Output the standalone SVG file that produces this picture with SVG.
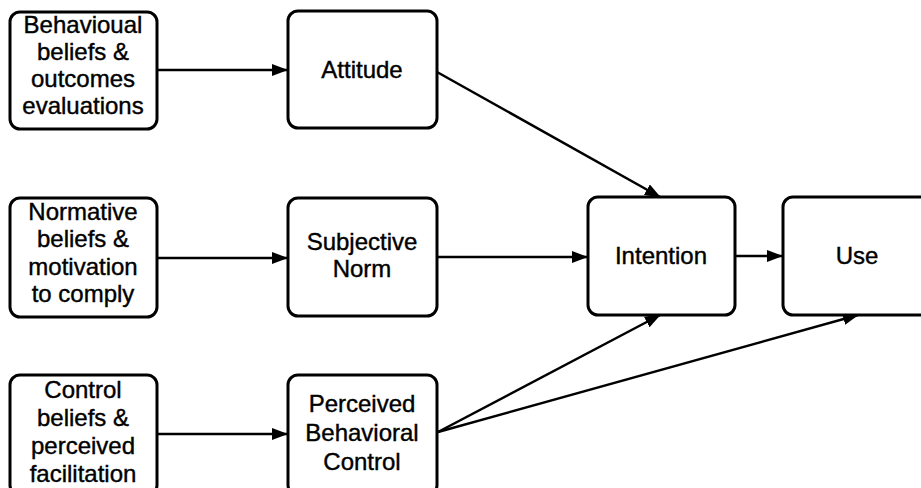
<svg xmlns="http://www.w3.org/2000/svg" width="921" height="488" viewBox="0 0 921 488">
<style>
.box{fill:#fff;stroke:#000;stroke-width:3}
.t{font-family:"Liberation Sans",Arial,sans-serif;font-size:24px;fill:#000;text-anchor:middle;stroke:#000;stroke-width:0.4}
.c{stroke:#000;stroke-width:2.5;fill:none;marker-end:url(#ah)}
</style>
<defs>
<marker id="ah" markerUnits="userSpaceOnUse" markerWidth="16" markerHeight="12" refX="15" refY="6" orient="auto">
<path d="M0,0 L16,6 L0,12 z" fill="#000"/>
</marker>
</defs>
<rect width="921" height="488" fill="#fff"/>
<g id="connectors">
<line class="c" x1="157" y1="70" x2="287" y2="70"/>
<line class="c" x1="157" y1="258" x2="287" y2="258"/>
<line class="c" x1="157" y1="434" x2="287" y2="434"/>
<line class="c" x1="437" y1="72" x2="660" y2="197"/>
<line class="c" x1="437" y1="257" x2="587" y2="257"/>
<line class="c" x1="735" y1="256" x2="782" y2="256"/>
<line class="c" x1="438" y1="432" x2="660" y2="315"/>
<line class="c" x1="438" y1="432" x2="858" y2="315"/>
</g>
<g id="behavioural">
<rect class="box" x="10" y="12" width="147" height="117" rx="10"/>
<text class="t" x="83" y="33">Behavioual</text>
<text class="t" x="83" y="60">beliefs &amp;</text>
<text class="t" x="83" y="87">outcomes</text>
<text class="t" x="83" y="114">evaluations</text>
</g>
<g id="attitude">
<rect class="box" x="288" y="11" width="149" height="117" rx="10"/>
<text class="t" x="362" y="78">Attitude</text>
</g>
<g id="normative">
<rect class="box" x="10" y="198" width="147" height="119" rx="10"/>
<text class="t" x="83" y="220">Normative</text>
<text class="t" x="83" y="247">beliefs &amp;</text>
<text class="t" x="83" y="275">motivation</text>
<text class="t" x="83" y="302">to comply</text>
</g>
<g id="subjective-norm">
<rect class="box" x="288" y="198" width="149" height="118" rx="10"/>
<text class="t" x="362" y="250">Subjective</text>
<text class="t" x="362" y="277">Norm</text>
</g>
<g id="control-beliefs">
<rect class="box" x="10" y="375" width="147" height="120" rx="10"/>
<text class="t" x="83" y="398">Control</text>
<text class="t" x="83" y="426">beliefs &amp;</text>
<text class="t" x="83" y="454">perceived</text>
<text class="t" x="83" y="482">facilitation</text>
</g>
<g id="pbc">
<rect class="box" x="288" y="375" width="149" height="120" rx="10"/>
<text class="t" x="362" y="412">Perceived</text>
<text class="t" x="362" y="441">Behavioral</text>
<text class="t" x="362" y="470">Control</text>
</g>
<g id="intention">
<rect class="box" x="588" y="197" width="147" height="118" rx="10"/>
<text class="t" x="661" y="264">Intention</text>
</g>
<g id="use">
<rect class="box" x="783" y="197" width="150" height="118" rx="10"/>
<text class="t" x="857" y="264">Use</text>
</g>
</svg>
